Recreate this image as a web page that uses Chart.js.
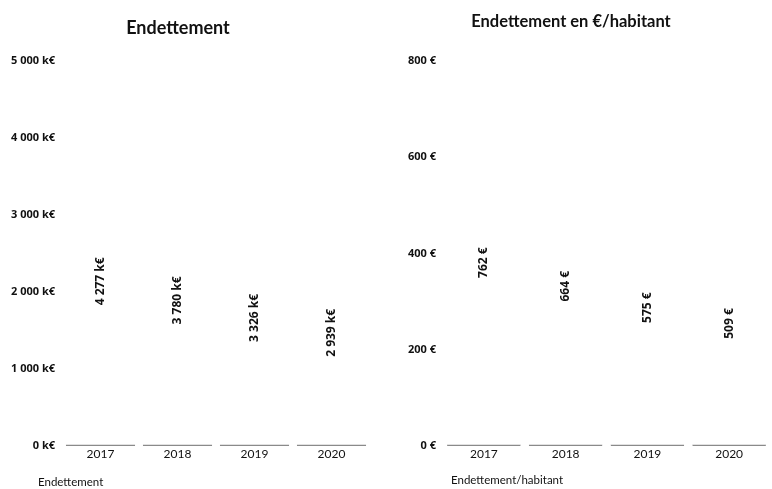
<!DOCTYPE html>
<html>
<head>
<meta charset="utf-8">
<script src="https://cdn.jsdelivr.net/npm/chart.js@4"></script>
<style>
  body { margin: 0; background: #fff; font-family: Lato, 'Open Sans', sans-serif; color: #111; }
  #wrap { position: relative; width: 772px; height: 489px; overflow: hidden; }
  .panel { position: absolute; top: 0; width: 386px; height: 489px; }
  .title { position: absolute; font-size: 17px; font-weight: 700; white-space: nowrap; transform: translateX(-50%); }
  .foot { position: absolute; font-size: 11.5px; white-space: nowrap; }
</style>
</head>
<body>
<div id="wrap">
  <div class="panel" style="left:0"><canvas id="debt"></canvas></div>
  <div class="panel" style="left:386px"><canvas id="perHab"></canvas></div>
  <div class="title" style="left:178px; top:16px; font-size:18px">Endettement</div>
  <div class="title" style="left:571px; top:11px; font-size:16.5px">Endettement en €/habitant</div>
  <div class="foot" style="left:38px; top:475px">Endettement</div>
  <div class="foot" style="left:451px; top:473px">Endettement/habitant</div>
</div>
<script>
// ===== Data =====
const years = ['2017', '2018', '2019', '2020'];
const debtValues = [4277, 3780, 3326, 2939];       // k€
const debtPerHabValues = [762, 664, 575, 509];      // €/habitant

const FONT = "Lato, 'Open Sans', sans-serif";
const BOLD_FONT = "'Open Sans', Lato, sans-serif";

function fmtThousands(n) {
    return String(n).replace(/\B(?=(\d{3})+(?!\d))/g, ' ');
}

// Rotated value labels drawn in the middle of each bar
const midLabels = {
    id: 'midLabels',
    afterDatasetsDraw(chart, args, opts) {
        const ctx = chart.ctx;
        const meta = chart.getDatasetMeta(0);
        const data = chart.data.datasets[0].data;
        ctx.save();
        ctx.fillStyle = '#111';
        ctx.font = "bold 12px " + BOLD_FONT;
        ctx.textAlign = 'center';
        ctx.textBaseline = 'middle';
        meta.data.forEach((bar, i) => {
            const p = bar.getProps(['x', 'y', 'base'], true);
            ctx.save();
            ctx.translate(p.x, (p.y + p.base) / 2);
            ctx.rotate(-Math.PI / 2);
            ctx.fillText(opts.format(data[i]), 0, 0);
            ctx.restore();
        });
        ctx.restore();
    }
};

function makeChart(id, values, max, step, unit, yWidth, pad) {
    const ctx = document.getElementById(id).getContext('2d');
    return new Chart(ctx, {
        type: 'bar',
        data: {
            labels: years,
            datasets: [{
                data: values,
                backgroundColor: '#ffffff',
                borderColor: '#8a8a8a',
                borderWidth: { top: 0, left: 0, right: 0, bottom: 1.5 },
                borderSkipped: false,
                categoryPercentage: 1,
                barPercentage: 0.9
            }]
        },
        options: {
            responsive: true,
            maintainAspectRatio: false,
            animation: false,
            events: [],
            layout: { padding: pad },
            plugins: {
                legend: { display: false },
                tooltip: { enabled: false },
                midLabels: { format: v => fmtThousands(v) + ' ' + unit }
            },
            scales: {
                x: {
                    grid: { display: false, drawTicks: false },
                    border: { display: false },
                    ticks: { color: '#111', padding: 1, font: { family: FONT, size: 12 } },
                    afterFit: s => { s.height = 20; }
                },
                y: {
                    min: 0,
                    max: max,
                    grid: { display: false, drawTicks: false },
                    border: { display: false },
                    ticks: {
                        stepSize: step,
                        color: '#111',
                        padding: 7,
                        font: { family: BOLD_FONT, size: 11, weight: 'bold' },
                        callback: v => fmtThousands(v) + ' ' + unit
                    },
                    afterFit: s => { s.width = yWidth; }
                }
            }
        },
        plugins: [midLabels]
    });
}

makeChart('debt', debtValues, 5000, 1000, 'k€', 62, { top: 61, bottom: 23, left: 0, right: 16 });
makeChart('perHab', debtPerHabValues, 800, 200, '€', 57, { top: 61, bottom: 23, left: 0, right: 2 });
</script>
</body>
</html>
